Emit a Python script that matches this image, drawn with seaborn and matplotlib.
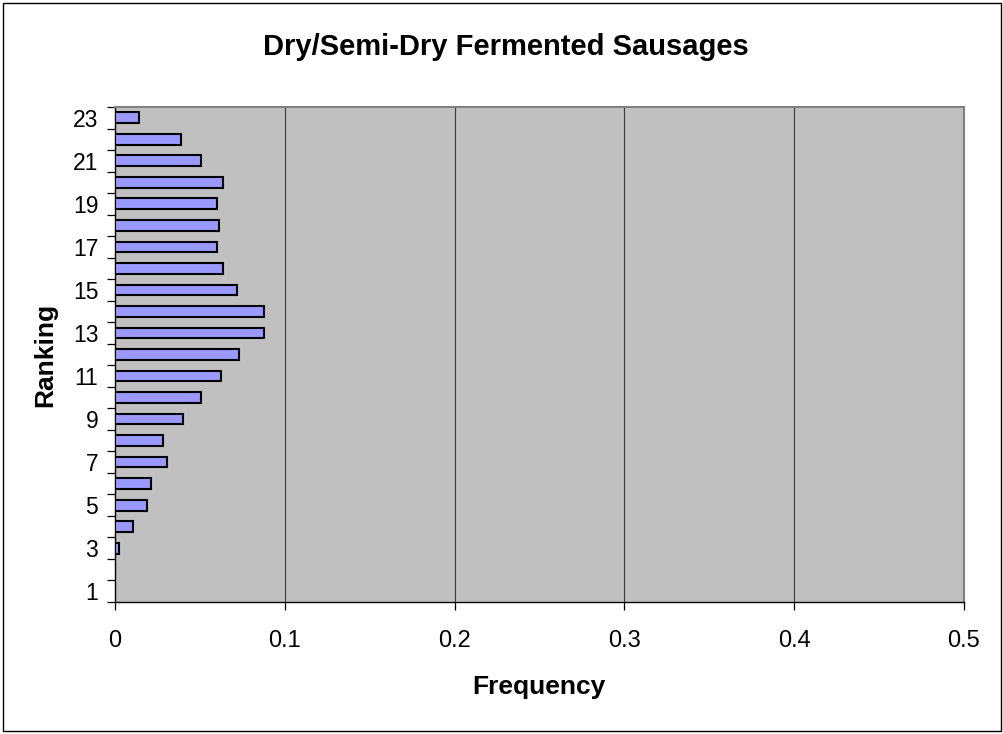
import matplotlib
matplotlib.use("Agg")
import matplotlib.pyplot as plt
from matplotlib.patches import Rectangle
from matplotlib.ticker import FixedLocator
import numpy as np
import pandas as pd
import seaborn as sns

# Frequency of each ranking score
rankings = list(range(1, 24))
frequency = [0.0, 0.0, 0.0024, 0.0106, 0.0188, 0.0212, 0.0306, 0.0282,
             0.040, 0.0506, 0.0624, 0.073, 0.088, 0.088, 0.0718, 0.0635,
             0.060, 0.0612, 0.060, 0.0635, 0.0506, 0.0388, 0.0139]
x_ticks = [0, 0.1, 0.2, 0.3, 0.4, 0.5]
y_tick_labels = list(range(1, 24, 2))

sns.set_theme(style="white")
plt.rcParams["font.family"] = ["Liberation Sans", "DejaVu Sans"]
plt.rcParams["text.color"] = "black"
plt.rcParams["xtick.color"] = "black"
plt.rcParams["ytick.color"] = "black"

df = pd.DataFrame({"Ranking": rankings, "Frequency": frequency})

fig = plt.figure(figsize=(10.04, 7.34), dpi=100)
ax = fig.add_axes([115 / 1004, 1 - 602 / 734, (964 - 115) / 1004, (602 - 107) / 734])
ax.set_facecolor("#C0C0C0")

sns.barplot(data=df, x="Frequency", y="Ranking", orient="h", native_scale=True,
            color="#9999FF", saturation=1, width=0.5, edgecolor="black",
            linewidth=1.5, ax=ax, zorder=3)

ax.set_xlim(0, 0.5)
ax.set_ylim(0.5, 23.5)

# vertical gridlines
for xv in x_ticks[1:-1]:
    ax.axvline(xv, color="#3a3a3a", lw=0.8, zorder=1)

ax.set_xticks(x_ticks)
ax.set_xticklabels([f"{v:g}" for v in x_ticks], fontsize=17, color="black")
ax.tick_params(axis="x", direction="out", length=6, width=0.9, color="black",
               pad=14, bottom=True)

ax.set_yticks(y_tick_labels)
ax.set_yticklabels([str(v) for v in y_tick_labels], fontsize=16.5, color="black")
ax.yaxis.set_minor_locator(FixedLocator(np.arange(0.5, 24, 1.0)))
ax.tick_params(axis="y", which="major", length=0, pad=12)
ax.tick_params(axis="y", which="minor", direction="out", length=6, width=0.9,
               color="black", left=True)

ax.set_xlabel("")
ax.set_ylabel("")

for side in ["left", "bottom"]:
    ax.spines[side].set_color("black")
    ax.spines[side].set_linewidth(1.0)
for side in ["top", "right"]:
    ax.spines[side].set_color("#808080")
    ax.spines[side].set_linewidth(1.5)
    ax.spines[side].set_visible(True)

fig.text(506 / 1004, 1 - 47 / 734, "Dry/Semi-Dry Fermented Sausages",
         ha="center", va="center", fontsize=21, fontweight="bold", color="black")
fig.text(539 / 1004, 1 - 687 / 734, "Frequency", ha="center", va="center",
         fontsize=19, fontweight="bold", color="black")
fig.text(45 / 1004, 1 - 355 / 734, "Ranking", ha="center", va="center",
         rotation=90, fontsize=19, fontweight="bold", color="black")

fig.patches.append(Rectangle((3 / 1004, 3 / 734), 998 / 1004, 728 / 734,
                             transform=fig.transFigure, fill=False,
                             edgecolor="black", lw=1.0))

fig.savefig("out.png", dpi=100, facecolor="white")
